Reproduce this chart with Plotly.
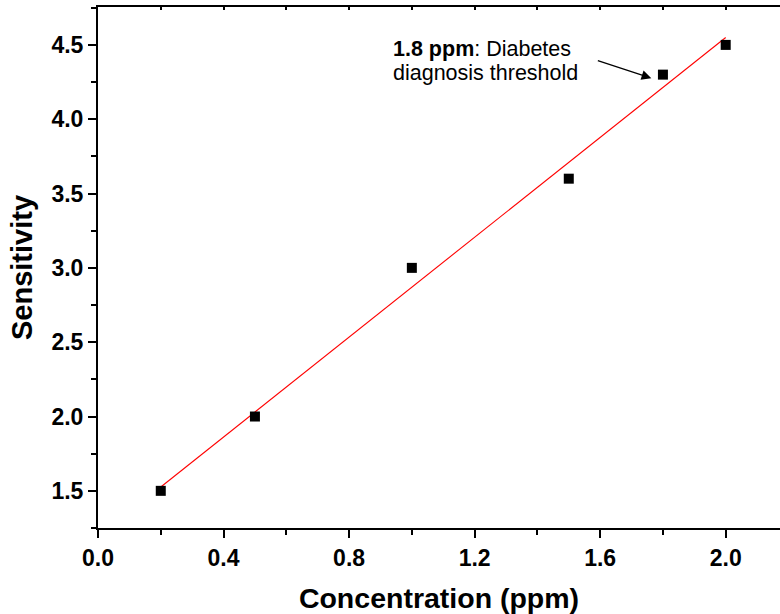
import numpy as np
import plotly.graph_objects as go

# Measured sensitivity versus acetone concentration
concentration = [0.2, 0.5, 1.0, 1.5, 1.8, 2.0]
sensitivity = [1.5, 2.0, 3.0, 3.6, 4.3, 4.5]

x_tick_vals = [0.0, 0.4, 0.8, 1.2, 1.6, 2.0]
x_tick_text = ["0.0", "0.4", "0.8", "1.2", "1.6", "2.0"]
y_tick_vals = [1.5, 2.0, 2.5, 3.0, 3.5, 4.0, 4.5]
y_tick_text = ["1.5", "2.0", "2.5", "3.0", "3.5", "4.0", "4.5"]

threshold_x = 1.8
threshold_y = sensitivity[concentration.index(threshold_x)]

# Least-squares linear fit over the measured range
slope, intercept = np.polyfit(concentration, sensitivity, 1)
fit_x = [min(concentration), max(concentration)]
fit_y = [slope * v + intercept for v in fit_x]

FONT = "Liberation Sans, Arial, Helvetica, sans-serif"
X_RANGE = [0, 2.173]
Y_RANGE = [1.25, 4.755]

fig = go.Figure()
fig.add_trace(go.Scatter(
    x=fit_x, y=fit_y, mode="lines",
    line=dict(color="#ff0000", width=1.1),
    showlegend=False, hoverinfo="skip",
))
fig.add_trace(go.Scatter(
    x=concentration, y=sensitivity, mode="markers",
    marker=dict(symbol="square", size=10, color="black",
                line=dict(width=0)),
    showlegend=False,
))
# empty trace so the top frame axis is drawn
fig.add_trace(go.Scatter(x=[None], y=[None], xaxis="x2", yaxis="y",
                         showlegend=False, hoverinfo="skip"))

fig.update_layout(
    width=780, height=614,
    margin=dict(l=98, r=0, t=7, b=86),
    paper_bgcolor="white", plot_bgcolor="white",
    font=dict(family=FONT, color="black"),
    xaxis=dict(
        range=X_RANGE, tickvals=x_tick_vals, ticktext=x_tick_text,
        ticks="outside", ticklen=8, tickwidth=2, tickcolor="black",
        minor=dict(dtick=0.2, tick0=0, ticks="outside", ticklen=5,
                   tickwidth=2, tickcolor="black", showgrid=False),
        showline=True, linewidth=2, linecolor="black", mirror=False,
        showgrid=False, zeroline=False,
        tickfont=dict(size=23, weight="bold", family=FONT),
        title=dict(text="Concentration (ppm)", standoff=20,
                   font=dict(size=28.5, weight="bold", family=FONT)),
    ),
    xaxis2=dict(
        overlaying="x", side="top", anchor="y", range=X_RANGE,
        tickvals=[0.2 * i for i in range(11)], showticklabels=False,
        ticks="inside", ticklen=3, tickwidth=1.5, tickcolor="black",
        showline=True, linewidth=2, linecolor="black",
        showgrid=False, zeroline=False,
    ),
    yaxis=dict(
        range=Y_RANGE, tickvals=y_tick_vals, ticktext=y_tick_text,
        ticks="outside", ticklen=8, tickwidth=2, tickcolor="black",
        minor=dict(dtick=0.25, tick0=0, ticks="outside", ticklen=5,
                   tickwidth=2, tickcolor="black", showgrid=False),
        showline=True, linewidth=2, linecolor="black",
        showgrid=False, zeroline=False,
        tickfont=dict(size=23, weight="bold", family=FONT),
        title=dict(text="Sensitivity", standoff=10,
                   font=dict(size=29, weight="bold", family=FONT)),
    ),
)

# Threshold note, one annotation per line
note_lines = [f"<b>{threshold_x} ppm</b>: Diabetes", "diagnosis threshold"]
note_y = [4.47, 4.31]
for line, ly in zip(note_lines, note_y):
    fig.add_annotation(
        x=0.935, y=ly, xref="x", yref="y", xanchor="left", yanchor="middle",
        text=line, showarrow=False, align="left",
        font=dict(size=21.5, family=FONT, color="black"),
    )
fig.add_annotation(
    x=1.763, y=4.276, xref="x", yref="y", text="",
    showarrow=True, ax=-55, ay=-18, axref="pixel", ayref="pixel",
    arrowhead=2, arrowsize=1.5, arrowwidth=1.3, arrowcolor="black",
)

fig.write_html("out.html")
